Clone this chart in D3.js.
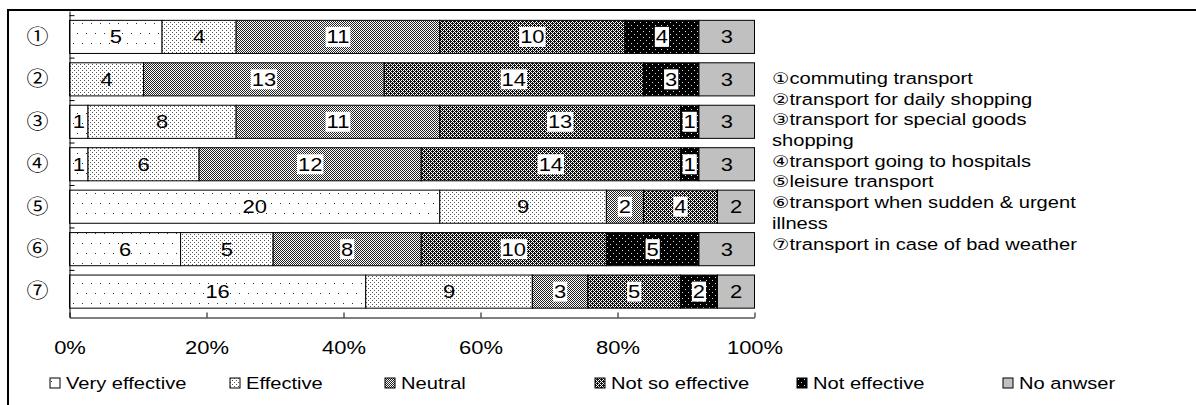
<!DOCTYPE html>
<html>
<head>
<meta charset="utf-8">
<script src="https://cdn.jsdelivr.net/npm/d3@7"></script>
<style>
  body { margin: 0; background: #fff; }
  svg { display: block; font-family: 'Liberation Sans', Arial, sans-serif; }
</style>
</head>
<body>
<div id="chart"></div>
<script>
// categories (rows) and what they stand for
const categories = ['①', '②', '③', '④', '⑤', '⑥', '⑦'];
const descriptions = [
    'commuting transport',
    'transport for daily shopping',
    'transport for special goods shopping',
    'transport going to hospitals',
    'leisure transport',
    'transport when sudden & urgent illness',
    'transport in case of bad weather'
];

// answer counts per row (37 answers each)
const seriesNames = ['Very effective', 'Effective', 'Neutral', 'Not so effective', 'Not effective', 'No anwser'];
const veryEffective = [5, 0, 1, 1, 20, 6, 16];
const effective = [4, 4, 8, 6, 9, 5, 9];
const neutral = [11, 13, 11, 12, 2, 8, 3];
const notSoEffective = [10, 14, 13, 14, 4, 10, 5];
const notEffective = [4, 3, 1, 1, 0, 5, 2];
const noAnswer = [3, 3, 3, 3, 2, 3, 2];

const xTicks = [0, 0.2, 0.4, 0.6, 0.8, 1];

const CJK = "'Noto Sans CJK JP', 'Noto Sans CJK SC', sans-serif";

class StackedBars {
    constructor(_config) {
        this.config = {
            parentElement: _config.parentElement,
            containerWidth: 1196,
            containerHeight: 405,
            plot: { left: 69.5, right: 754.5, top: 11, bottom: 317.5 },
            fontSize: 18,
            stretch: 1.22   // the original text is drawn a bit wide
        };
        this.initVis();
    }

    initVis() {
        let vis = this;

        vis.svg = d3.select(vis.config.parentElement).append('svg')
            .attr('width', vis.config.containerWidth)
            .attr('height', vis.config.containerHeight);

        vis.defs = vis.svg.append('defs');
        vis.makePatterns();

        // outer chart frame (runs past the right and bottom edges)
        vis.svg.append('rect')
            .attr('x', 8).attr('y', 10)
            .attr('width', 1300).attr('height', 500)
            .attr('fill', 'none')
            .attr('stroke', '#000')
            .attr('stroke-width', 2);

        // build the table the stack layout wants
        vis.table = categories.map((c, i) => ({
            category: c,
            'Very effective': veryEffective[i],
            'Effective': effective[i],
            'Neutral': neutral[i],
            'Not so effective': notSoEffective[i],
            'Not effective': notEffective[i],
            'No anwser': noAnswer[i]
        }));

        vis.stack = d3.stack()
            .keys(seriesNames)
            .offset(d3.stackOffsetExpand);

        vis.x = d3.scaleLinear()
            .domain([0, 1])
            .range([vis.config.plot.left, vis.config.plot.right]);

        vis.y = d3.scaleBand()
            .domain(categories)
            .range([vis.config.plot.top, vis.config.plot.bottom])
            .padding(0.22);

        vis.renderVis();
    }

    makePatterns() {
        let vis = this;
        // pixel based fills, close to the old office hatch patterns
        const addPattern = (id, w, h, bg, fg, isOn) => {
            const p = vis.defs.append('pattern')
                .attr('id', id)
                .attr('patternUnits', 'userSpaceOnUse')
                .attr('width', w).attr('height', h);
            p.append('rect').attr('width', w).attr('height', h).attr('fill', bg);
            for (let yy = 0; yy < h; yy++) {
                for (let xx = 0; xx < w; xx++) {
                    if (isOn(xx, yy)) {
                        p.append('rect')
                            .attr('x', xx).attr('y', yy)
                            .attr('width', 1).attr('height', 1)
                            .attr('fill', fg)
                            .attr('shape-rendering', 'crispEdges');
                    }
                }
            }
        };

        addPattern('p0', 9, 20, '#fff', '#333', (x, y) => (x === 1 && y === 3) || (x === 5 && y === 13));
        addPattern('p1', 4, 4, '#fff', '#555', (x, y) => (x === 0 && y === 0) || (x === 2 && y === 2));
        addPattern('p2', 8, 16, '#fff', '#222', (x, y) => {
            if ((x === 1 && y === 2) || (x === 5 && y === 10)) return false;
            return (x + y) % 2 === 0;
        });
        addPattern('p3', 4, 4, '#fff', '#111', (x, y) => {
            const map = ['1010', '0111', '1010', '1101'];
            return map[y][x] === '1';
        });
        addPattern('p4', 6, 6, '#000', '#ddd', (x, y) => (x === 1 && y === 1) || (x === 4 && y === 4));

        vis.fills = ['url(#p0)', 'url(#p1)', 'url(#p2)', 'url(#p3)', 'url(#p4)', '#c0c0c0'];
        // rows where the count gets a white box behind it
        vis.boxed = [false, false, true, true, true, false];
    }

    renderVis() {
        let vis = this;
        const fs = vis.config.fontSize;
        const s = vis.config.stretch;
        const stacked = vis.stack(vis.table);

        // bars
        const layers = vis.svg.append('g').selectAll('.layer')
            .data(stacked)
            .join('g')
            .attr('class', 'layer')
            .attr('fill', (d, i) => vis.fills[i]);

        layers.selectAll('rect')
            .data(d => d.map(v => ({ v, key: d.key })))
            .join('rect')
            .filter(d => d.v.data[d.key] > 0)
            .attr('x', d => vis.x(d.v[0]))
            .attr('y', d => vis.y(d.v.data.category))
            .attr('width', d => vis.x(d.v[1]) - vis.x(d.v[0]))
            .attr('height', vis.y.bandwidth())
            .attr('stroke', '#000')
            .attr('stroke-width', 1);

        // count labels
        const labels = vis.svg.append('g')
            .attr('font-size', fs)
            .attr('text-anchor', 'middle');

        stacked.forEach((layer, li) => {
            layer.forEach(v => {
                const n = v.data[layer.key];
                if (!n) return;
                const cx = (vis.x(v[0]) + vis.x(v[1])) / 2;
                const cy = vis.y(v.data.category) + vis.y.bandwidth() / 2;
                const g = labels.append('g').attr('transform', `translate(${cx},${cy})`);
                const t = g.append('text')
                    .attr('dy', '0.36em')
                    .attr('transform', `scale(${s},1)`)
                    .text(n);
                if (vis.boxed[li]) {
                    const w = t.node().getComputedTextLength() * s;
                    g.insert('rect', 'text')
                        .attr('x', -w / 2 - 1)
                        .attr('y', -10)
                        .attr('width', w + 2)
                        .attr('height', 20)
                        .attr('fill', '#fff');
                }
            });
        });

        // x axis, ticks pointing up into the plot
        const xAxis = d3.axisBottom(vis.x)
            .tickValues(xTicks)
            .tickFormat(d3.format('.0%'))
            .tickSizeInner(-5)
            .tickSizeOuter(0)
            .tickPadding(24);

        const gx = vis.svg.append('g')
            .attr('transform', `translate(0,${vis.config.plot.bottom})`)
            .call(xAxis);
        gx.selectAll('text')
            .attr('font-size', fs)
            .attr('font-family', null)
            .attr('fill', '#000')
            .attr('transform', `scale(${s},1)`);
        gx.selectAll('path, line').attr('stroke', '#000');

        // y axis with the circled numbers
        const yAxis = d3.axisLeft(vis.y)
            .tickSize(0)
            .tickPadding(0);

        const gy = vis.svg.append('g')
            .attr('transform', `translate(${vis.config.plot.left},0)`)
            .call(yAxis);
        gy.selectAll('text')
            .attr('font-size', 20)
            .attr('font-family', CJK)
            .attr('fill', '#000')
            .attr('text-anchor', 'middle')
            .attr('x', 0)
            .attr('dy', '0.34em')
            .attr('transform', `translate(-32,0) scale(1.1,1)`);
        gy.select('.domain').attr('stroke', '#000');

        // category boundary ticks
        const step = vis.y.step();
        const bounds = categories.map(c => vis.y(c) - step * vis.y.paddingInner() / 2);
        gy.selectAll('.bound')
            .data(bounds)
            .join('line')
            .attr('class', 'bound')
            .attr('x1', 0).attr('x2', 5)
            .attr('y1', d => d).attr('y2', d => d)
            .attr('stroke', '#000');

        // description list at the right, wrapped like the original box
        const desc = vis.svg.append('g')
            .attr('font-size', 16.5)
            .attr('transform', `translate(772,0) scale(${s},1)`);
        const maxWidth = 320 / s;
        const lineH = 20.7;
        let line = 0;
        const newLine = () => desc.append('text').attr('y', 84 + line * lineH);
        descriptions.forEach((text, i) => {
            let t = newLine();
            t.append('tspan').attr('font-family', "'DejaVu Sans', sans-serif").attr('font-size', 16).text(categories[i]);
            let body = t.append('tspan');
            let current = [];
            text.split(' ').forEach(w => {
                current.push(w);
                body.text(current.join(' '));
                if (t.node().getComputedTextLength() > maxWidth && current.length > 1) {
                    current.pop();
                    body.text(current.join(' '));
                    line++;
                    current = [w];
                    t = newLine();
                    body = t.append('tspan').text(w);
                }
            });
            line++;
        });

        // legend
        const legendX = [50, 230, 385, 595, 797, 1003];
        const legend = vis.svg.append('g')
            .attr('font-size', 16.5)
            .selectAll('g')
            .data(seriesNames)
            .join('g')
            .attr('transform', (d, i) => `translate(${legendX[i]},378)`);

        legend.append('rect')
            .attr('width', 10).attr('height', 10)
            .attr('fill', (d, i) => vis.fills[i])
            .attr('stroke', '#000');

        legend.append('text')
            .attr('transform', `translate(16,11) scale(${s},1)`)
            .text(d => d);
    }
}

new StackedBars({ parentElement: '#chart' });
</script>
</body>
</html>
